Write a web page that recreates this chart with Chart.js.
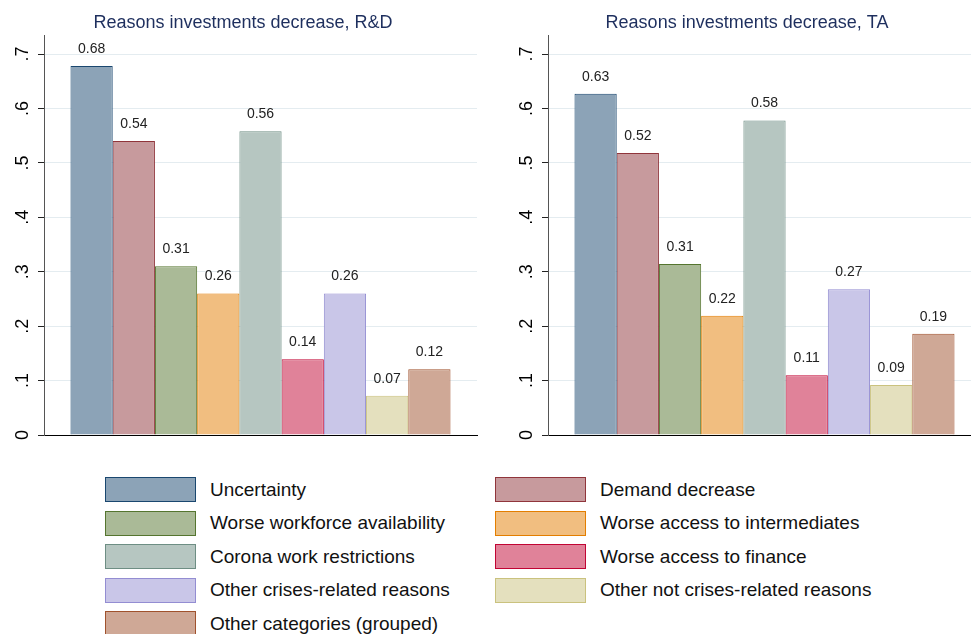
<!DOCTYPE html>
<html>
<head>
<meta charset="utf-8">
<script src="https://cdn.jsdelivr.net/npm/chart.js@4.4.1/dist/chart.umd.min.js"></script>
<style>
  html, body { margin: 0; padding: 0; background: #fff; }
  body { width: 971px; height: 634px; overflow: hidden; position: relative; font-family: "Liberation Sans", Arial, sans-serif; }
  .panel { position: absolute; top: 0; width: 490px; height: 450px; }
  .legend-item { position: absolute; height: 25px; display: flex; align-items: center; }
  .legend-box { width: 91px; height: 25px; box-sizing: border-box; border: 1px solid; }
  .legend-text { margin-left: 14px; font-size: 19px; color: #111; white-space: nowrap; }
</style>
</head>
<body>
<div class="panel" style="left:0px"><canvas id="chart1"></canvas></div>
<div class="panel" style="left:504px"><canvas id="chart2"></canvas></div>
<div id="legend"></div>

<script>
// data
const categories = [
  "Uncertainty",
  "Demand decrease",
  "Worse workforce availability",
  "Worse access to intermediates",
  "Corona work restrictions",
  "Worse access to finance",
  "Other crises-related reasons",
  "Other not crises-related reasons",
  "Other categories (grouped)"
];
const valuesRD = [0.678, 0.540, 0.310, 0.260, 0.558, 0.139, 0.260, 0.072, 0.121];
const valuesTA = [0.627, 0.518, 0.314, 0.219, 0.578, 0.110, 0.268, 0.092, 0.186];
const titles = ["Reasons investments decrease, R&D", "Reasons investments decrease, TA"];
const yTickValues = [0, 0.1, 0.2, 0.3, 0.4, 0.5, 0.6, 0.7];
const yTickLabels = ["0", ".1", ".2", ".3", ".4", ".5", ".6", ".7"];

// colours (fill = lighter version of the line colour)
const lineColors = ["#1a476f", "#90353b", "#55752f", "#e37e00", "#6e8e84", "#c10534", "#938dd2", "#cac27e", "#a0522d"];
const fillColors = ["#8ca3b7", "#c79a9d", "#aaba97", "#f1be80", "#b6c6c1", "#e08299", "#c9c6e8", "#e4e0be", "#cfa896"];

const FONT = "'Liberation Sans', Arial, sans-serif";

// draws the value above every bar
const barLabels = {
  id: 'barLabels',
  afterDatasetsDraw(chart) {
    const ctx = chart.ctx;
    ctx.save();
    ctx.font = "14px " + FONT;
    ctx.fillStyle = "#222";
    ctx.textAlign = "center";
    ctx.textBaseline = "middle";
    chart.data.datasets.forEach((ds, i) => {
      const bar = chart.getDatasetMeta(i).data[0];
      ctx.fillText(ds.data[0].toFixed(2), bar.x, bar.y - 17);
    });
    ctx.restore();
  }
};

function renderChart(ctx, title, values) {
  new Chart(ctx, {
    type: 'bar',
    data: {
      labels: [""],
      datasets: categories.map((c, i) => ({
        label: c,
        data: [values[i]],
        backgroundColor: fillColors[i],
        borderColor: lineColors[i],
        borderWidth: 1
      }))
    },
    options: {
      responsive: true,
      maintainAspectRatio: false,
      animation: false,
      devicePixelRatio: 1,
      categoryPercentage: 0.8776,
      barPercentage: 1,
      layout: { padding: { left: 9, right: 13, top: 0, bottom: 15 } },
      plugins: {
        legend: { display: false },
        tooltip: { enabled: false },
        title: {
          display: true,
          text: title,
          color: "#1e2f5e",
          font: { family: FONT, size: 18, weight: 'normal', lineHeight: 1.2 },
          padding: { top: 12, bottom: 1.4 }
        }
      },
      scales: {
        x: {
          afterFit: (scale) => { scale.height = 0; },
          ticks: { display: false },
          grid: { display: false },
          border: { display: true, color: "#000", width: 1 }
        },
        y: {
          min: 0,
          max: 0.735,
          afterBuildTicks: (scale) => { scale.ticks = yTickValues.map(v => ({ value: v })); },
          afterFit: (scale) => {
            scale.width = 35;
            scale.paddingTop = 0;
            scale.paddingBottom = 0;
          },
          ticks: {
            callback: (v, i) => yTickLabels[i],
            minRotation: 90,
            maxRotation: 90,
            crossAlign: 'center',
            padding: 7,
            color: "#000",
            font: { family: FONT, size: 18 }
          },
          grid: { color: "#e4ecf0", lineWidth: 1, tickLength: 6, tickColor: "#222" },
          border: { display: true, color: "#555", width: 1 }
        }
      }
    },
    plugins: [barLabels]
  });
}

renderChart(document.getElementById('chart1').getContext('2d'), titles[0], valuesRD);
renderChart(document.getElementById('chart2').getContext('2d'), titles[1], valuesTA);

// legend in two columns
const legend = document.getElementById('legend');
categories.forEach((c, i) => {
  const item = document.createElement('div');
  item.className = 'legend-item';
  item.style.left = (105 + (i % 2) * 390) + 'px';
  item.style.top = (477 + Math.floor(i / 2) * 33.6) + 'px';
  item.innerHTML = '<div class="legend-box" style="background:' + fillColors[i] + ';border-color:' + lineColors[i] + '"></div>' +
    '<span class="legend-text">' + c + '</span>';
  legend.appendChild(item);
});
</script>
</body>
</html>
